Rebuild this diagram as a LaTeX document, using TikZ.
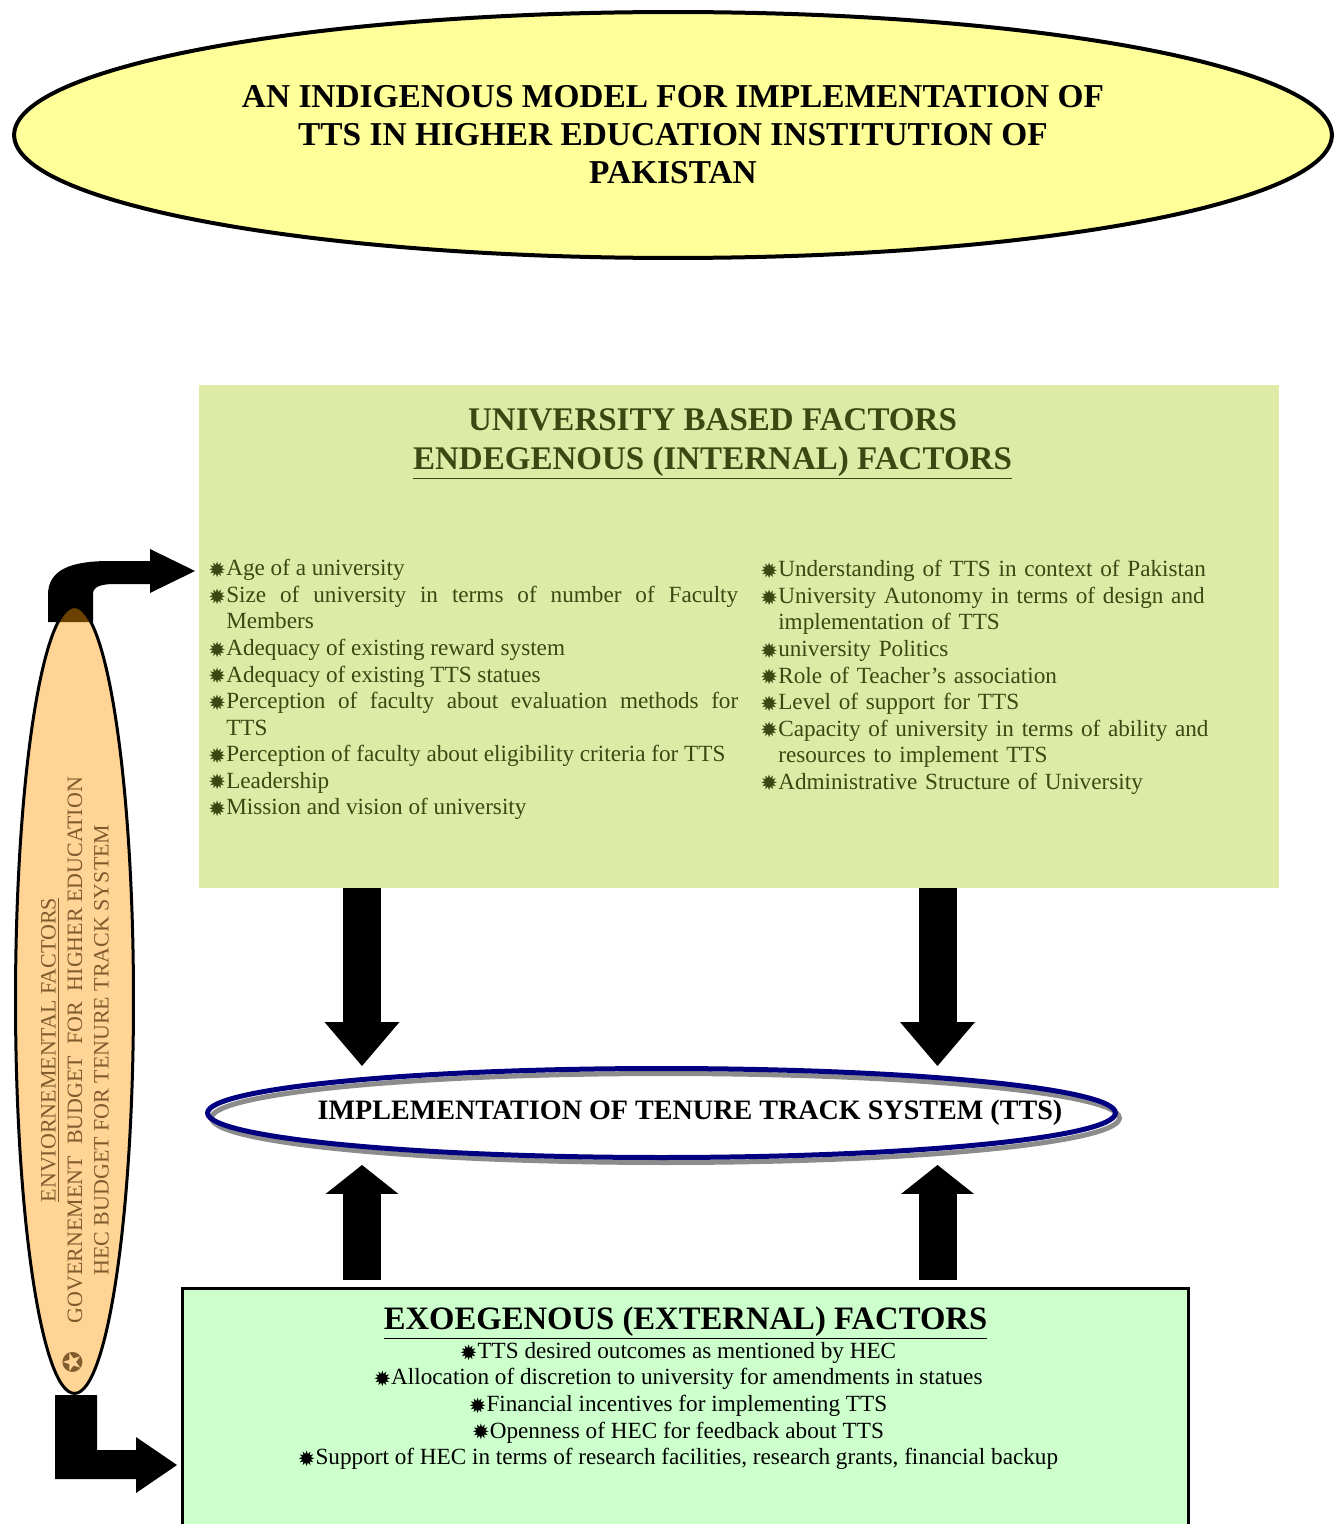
\documentclass[tikz,border=0pt]{standalone}
\usepackage{fontspec}
\setmainfont{Liberation Serif}
\newfontfamily\dejavu{DejaVu Sans}
\usetikzlibrary{shapes.geometric,arrows.meta}

\definecolor{titlefill}{HTML}{FFFF99}
\definecolor{intfill}{HTML}{DDEBA7}
\definecolor{inttext}{HTML}{3A4812}
\definecolor{extfill}{HTML}{CCFFCC}
\definecolor{envorange}{HTML}{FF9900}
\definecolor{envtext}{HTML}{7F5B2E}
\definecolor{navy}{HTML}{000080}

\newcommand\bul{\raisebox{-1pt}{\dejavu\fontsize{12}{12}\selectfont ✹}}
\newcommand\fitem[1]{\par\noindent\hangindent=10.2pt\hangafter=1\makebox[10.2pt][l]{\bul}#1}
\newcommand\bodyfont{\fontsize{13.2}{15.1}\selectfont\hyphenpenalty=10000}

\begin{document}
\begin{tikzpicture}[x=0.02cm, y=-0.02cm,
    bodytext/.style={inner sep=0pt, font=\bodyfont},
    blockdown/.style={line width=0.76cm, -{Triangle[width=1.5cm, length=0.88cm, line width=0pt]}},
    blockup/.style={line width=0.76cm, -{Triangle[width=1.46cm, length=0.58cm, line width=0pt]}}]
  \useasboundingbox (0,0) rectangle (1342,1524);
  %titolo
  \node[ellipse, draw, line width=0.08cm, fill=titlefill, minimum width=26.36cm, minimum height=4.92cm,
        inner sep=0pt, align=center, font=\bfseries\fontsize{19}{21.6}\selectfont] (title) at (673,135)
        {AN INDIGENOUS MODEL FOR IMPLEMENTATION OF\\TTS IN HIGHER EDUCATION INSTITUTION OF\\PAKISTAN};
  %fattori interni
  \node[fill=intfill, minimum width=21.6cm, minimum height=10.06cm, inner sep=0pt] (ub) at (739,636.5) {};
  \node[anchor=north, inner sep=0pt, text=inttext, align=center, font=\bfseries\fontsize{18.8}{22.2}\selectfont]
        (ubtitle) at (712.5,408) {UNIVERSITY BASED FACTORS\\\underline{ENDEGENOUS (INTERNAL) FACTORS}};
  \node[bodytext, anchor=north west, text=inttext, text width=10.6cm, align=justify] (ucolleft) at (208,549) {
    \fitem{Age of a university}
    \fitem{Size of university in terms of number of Faculty\linebreak Members}
    \fitem{Adequacy of existing reward system}
    \fitem{Adequacy of existing TTS statues}
    \fitem{Perception of faculty about evaluation methods for\linebreak TTS}
    \fitem{Perception of faculty about eligibility criteria for TTS}
    \fitem{Leadership}
    \fitem{Mission and vision of university}};
  \node[bodytext, anchor=north west, text=inttext, text width=10cm, align=left] (ucolright) at (760,550) {
    \fitem{Understanding of TTS in context of Pakistan}
    \fitem{University Autonomy in terms of design and\newline implementation of TTS}
    \fitem{university Politics}
    \fitem{Role of Teacher’s association}
    \fitem{Level of support for TTS}
    \fitem{Capacity of university in terms of ability and\newline resources to implement TTS}
    \fitem{Administrative Structure of University}};
  %implementazione
  \node[ellipse, draw=gray!90, line width=0.1cm, minimum width=18.16cm, minimum height=1.78cm, inner sep=0pt] (implsh) at (665.5,1118) {};
  \node[ellipse, draw=navy, line width=0.1cm, minimum width=18.16cm, minimum height=1.78cm, inner sep=0pt] (impl) at (661.5,1113) {};
  \node[font=\bfseries\fontsize{16}{18}\selectfont] (impltxt) at (690,1113) {IMPLEMENTATION OF TENURE TRACK SYSTEM (TTS)};
  %frecce
  \coordinate (cl) at (362,0);
  \coordinate (cr) at (937.5,0);
  \coordinate (upbase) at (0,1280);
  \draw[blockdown] (ub.south -| cl) -- (impl.north -| cl);
  \draw[blockdown] (ub.south -| cr) -- (impl.north -| cr);
  \draw[blockup] (upbase -| cl) -- (implsh.south -| cl);
  \draw[blockup] (upbase -| cr) -- (implsh.south -| cr);
  %fattori esterni
  \node[draw, line width=0.06cm, fill=extfill, minimum width=20.12cm, minimum height=5.13cm, inner sep=0pt] (eb) at (685.5,1416.75) {};
  \node[anchor=base, font=\bfseries\fontsize{18.6}{22}\selectfont] (ebtitle) at (685.5,1329) {\underline{EXOEGENOUS (EXTERNAL) FACTORS}};
  \node[bodytext, anchor=north, align=center] (ecol) at (678,1342) {\bul TTS desired outcomes as mentioned by HEC\\
    \bul Allocation of discretion to university for amendments in statues\\
    \bul Financial incentives for implementing TTS\\
    \bul Openness of HEC for feedback about TTS\\
    \bul Support of HEC in terms of research facilities, research grants, financial backup};
  %fattori ambientali
  \fill (48,622) -- (48,595) .. controls (48,570) and (70,561) .. (110,561) -- (150,561) -- (150,549) -- (195,571)
        -- (150,593) -- (150,584) -- (115,584) .. controls (100,584) and (93,587) .. (93,594) -- (93,622) -- cycle;
  \node[ellipse, draw, line width=0.06cm, fill=envorange, fill opacity=0.42, minimum width=2.36cm, minimum height=15.74cm,
        inner sep=0pt] (env) at (74.5,1000) {};
  \node[rotate=90, inner sep=0pt, text=envtext, align=center, font=\fontsize{12.5}{15.1}\selectfont] (envtxt) at (75,1050)
        {\underline{ENVIORNEMENTAL FACTORS}\\\llap{{\dejavu\fontsize{15}{15}\selectfont ✪}\hspace{16pt}}GOVERNEMENT\ \ BUDGET\ \ FOR\ \ HIGHER EDUCATION\\HEC BUDGET FOR TENURE TRACK SYSTEM};
  \fill (55,1395) -- (97,1395) -- (97,1450) -- (136,1450) -- (136,1437) -- (177,1465) -- (136,1493) -- (136,1479) -- (55,1479) -- cycle;
\end{tikzpicture}
\end{document}
